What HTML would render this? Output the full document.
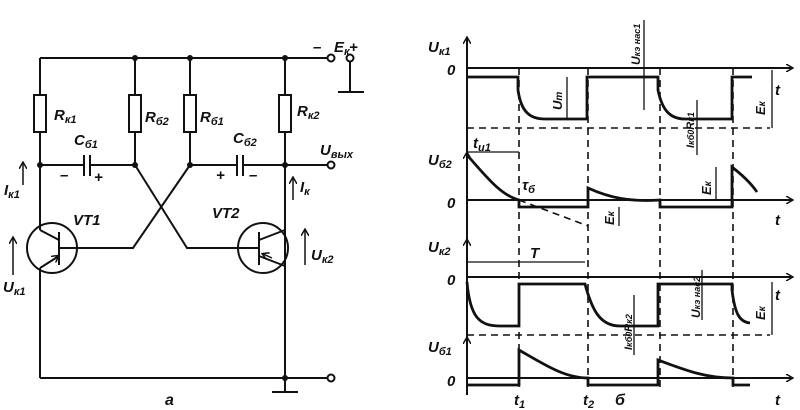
<!DOCTYPE html>
<html><head><meta charset="utf-8"><style>
html,body{margin:0;padding:0;background:#fff;}
svg{display:block;}
text{font-family:"Liberation Sans",sans-serif;font-style:italic;font-weight:bold;fill:#111;}
</style></head><body>
<svg width="800" height="410" viewBox="0 0 800 410" xmlns="http://www.w3.org/2000/svg">
<defs><marker id="ar" markerWidth="8" markerHeight="8" refX="6" refY="4" orient="auto" markerUnits="userSpaceOnUse"><path d="M0,0 L7,4 L0,8" fill="none" stroke="#111" stroke-width="1.5"/></marker></defs>
<g stroke="#111" stroke-width="2" fill="none">
<line x1="40" y1="58" x2="327" y2="58"/>
<circle cx="331" cy="58" r="3.5" fill="#fff"/>
<circle cx="350" cy="58" r="3.5" fill="#fff"/>
<line x1="350" y1="62" x2="350" y2="92"/><line x1="338" y1="92" x2="364" y2="92"/>
<line x1="40" y1="58" x2="40" y2="95"/><rect x="34" y="95" width="12" height="37"/><line x1="40" y1="132" x2="40" y2="230"/>
<line x1="135" y1="58" x2="135" y2="95"/><rect x="129" y="95" width="12" height="37"/><line x1="135" y1="132" x2="135" y2="165"/>
<line x1="190" y1="58" x2="190" y2="95"/><rect x="184" y="95" width="12" height="37"/><line x1="190" y1="132" x2="190" y2="165"/>
<line x1="285" y1="58" x2="285" y2="95"/><rect x="279" y="95" width="12" height="37"/><line x1="285" y1="132" x2="285" y2="378"/>
<line x1="40" y1="165" x2="83" y2="165"/><line x1="84" y1="155" x2="84" y2="176"/><line x1="90" y1="155" x2="90" y2="176"/><line x1="91" y1="165" x2="135" y2="165"/>
<line x1="190" y1="165" x2="236" y2="165"/><line x1="237" y1="155" x2="237" y2="176"/><line x1="243" y1="155" x2="243" y2="176"/><line x1="244" y1="165" x2="327" y2="165"/>
<circle cx="331" cy="165" r="3.5" fill="#fff"/>
<polyline points="135,165 187,248 240,248"/>
<polyline points="190,165 133,248 77,248"/>
<circle cx="52" cy="248" r="25"/>
<line x1="59" y1="232" x2="59" y2="265"/>
<line x1="59" y1="248" x2="77" y2="248"/>
<line x1="59" y1="240" x2="40" y2="230"/>
<line x1="59" y1="256" x2="40" y2="268"/>
<line x1="40" y1="268" x2="40" y2="378"/>
<circle cx="263" cy="248" r="25"/>
<line x1="259" y1="232" x2="259" y2="265"/>
<line x1="240" y1="248" x2="259" y2="248"/>
<line x1="259" y1="240" x2="285" y2="230"/>
<line x1="259" y1="256" x2="285" y2="266"/>
<line x1="40" y1="378" x2="327" y2="378"/>
<circle cx="331" cy="378" r="3.5" fill="#fff"/>
<line x1="285" y1="378" x2="285" y2="392"/><line x1="272" y1="392" x2="298" y2="392"/>
</g>
<g fill="#111"><circle cx="135" cy="58" r="3"/><circle cx="190" cy="58" r="3"/><circle cx="285" cy="58" r="3"/><circle cx="40" cy="165" r="3"/><circle cx="135" cy="165" r="3"/><circle cx="190" cy="165" r="3"/><circle cx="285" cy="165" r="3"/><circle cx="285" cy="378" r="3"/></g>
<g stroke="#111" stroke-width="1.5" marker-end="url(#ar)">
<line x1="23" y1="185" x2="23" y2="163"/><line x1="13" y1="275" x2="13" y2="238"/>
<line x1="293" y1="200" x2="293" y2="178"/><line x1="305" y1="265" x2="305" y2="230"/>
<line x1="50" y1="262" x2="58" y2="256"/><line x1="272" y1="258" x2="263" y2="254"/>
</g>
<g font-size="15">
<text x="54" y="120">R<tspan font-size="11" dy="3">к1</tspan></text>
<text x="145" y="122">R<tspan font-size="11" dy="3">б2</tspan></text>
<text x="200" y="122">R<tspan font-size="11" dy="3">б1</tspan></text>
<text x="297" y="116">R<tspan font-size="11" dy="3">к2</tspan></text>
<text x="74" y="145">C<tspan font-size="11" dy="3">б1</tspan></text>
<text x="233" y="143">C<tspan font-size="11" dy="3">б2</tspan></text>
<text x="320" y="155">U<tspan font-size="11" dy="3">вых</tspan></text>
<text x="334" y="52">E<tspan font-size="11" dy="3">к</tspan></text>
<text x="4" y="195">I<tspan font-size="11" dy="3">к1</tspan></text>
<text x="300" y="192">I<tspan font-size="11" dy="3">к</tspan></text>
<text x="3" y="292">U<tspan font-size="11" dy="3">к1</tspan></text>
<text x="311" y="260">U<tspan font-size="11" dy="3">к2</tspan></text>
<text x="73" y="225">VT1</text><text x="212" y="218">VT2</text>
<text x="165" y="405" font-size="16">a</text>
<text x="60" y="180">–</text><text x="94" y="182">+</text><text x="216" y="180">+</text><text x="249" y="180">–</text>
<text x="313" y="52">–</text><text x="349" y="52">+</text>
</g>
<g stroke="#111" stroke-width="2" fill="none">
<line x1="467" y1="395" x2="467" y2="38" marker-end="url(#ar)"/>
<line x1="467" y1="68" x2="792" y2="68" marker-end="url(#ar)"/>
<line x1="467" y1="200" x2="792" y2="200" marker-end="url(#ar)"/>
<line x1="467" y1="277" x2="792" y2="277" marker-end="url(#ar)"/>
<line x1="467" y1="378" x2="792" y2="378" marker-end="url(#ar)"/>
<line x1="467" y1="200" x2="467" y2="153" marker-end="url(#ar)"/>
<line x1="467" y1="277" x2="467" y2="240" marker-end="url(#ar)"/>
<line x1="467" y1="378" x2="467" y2="338" marker-end="url(#ar)"/>
<g stroke-dasharray="7,5" stroke-width="1.6">
<line x1="467" y1="128" x2="770" y2="128"/><line x1="467" y1="335" x2="770" y2="335"/>
<line x1="519" y1="68" x2="519" y2="390"/><line x1="588" y1="68" x2="588" y2="390"/>
<line x1="660" y1="68" x2="660" y2="390"/><line x1="733" y1="68" x2="733" y2="390"/>
<line x1="519" y1="200" x2="588" y2="226"/>
</g>
</g>
<g stroke="#111" stroke-width="2.8" fill="none">
<path d="M467,77 H518 V90 C521,112 530,119 545,119 H587 V77 H658 V90 C662,110 670,119 685,119 H732 V77 H752"/>
<path d="M467,155 C485,175 500,195 519,200 V207 H588 V188 C610,198 630,202 660,200 V207 H732 V167 C742,175 750,182 757,192"/>
<path d="M467,282 C470,318 480,326 500,326 H519 V284 H585 C592,310 600,326 620,326 H658 V284 H732 V290 C735,315 740,322 750,323"/>
<path d="M467,385 H519 V350 C545,365 565,378 588,378 V385 H658 V360 C685,370 705,378 733,378 V385 H750"/>
</g>
<g stroke="#111" stroke-width="1.3" fill="none">
<line x1="567" y1="77" x2="567" y2="120"/><line x1="467" y1="152" x2="519" y2="152"/>
<line x1="467" y1="262" x2="585" y2="262"/>
<line x1="772" y1="70" x2="772" y2="128"/><line x1="772" y1="282" x2="772" y2="335"/>
<line x1="619" y1="207" x2="619" y2="226"/><line x1="716" y1="167" x2="716" y2="200"/>
<line x1="644" y1="20" x2="644" y2="110"/><line x1="702" y1="270" x2="702" y2="320"/>
<line x1="697" y1="100" x2="697" y2="155"/><line x1="634" y1="295" x2="634" y2="355"/>
</g>
<g font-size="15">
<text x="428" y="52">U<tspan font-size="11" dy="3">к1</tspan></text>
<text x="428" y="165">U<tspan font-size="11" dy="3">б2</tspan></text>
<text x="428" y="252">U<tspan font-size="11" dy="3">к2</tspan></text>
<text x="428" y="352">U<tspan font-size="11" dy="3">б1</tspan></text>
<text x="447" y="75">0</text><text x="447" y="208">0</text><text x="447" y="285">0</text><text x="447" y="386">0</text>
<text x="775" y="95">t</text><text x="775" y="225">t</text><text x="775" y="300">t</text><text x="775" y="405">t</text>
<text x="473" y="148">t<tspan font-size="11" dy="3">и1</tspan></text>
<text x="522" y="190">τ<tspan font-size="11" dy="3">б</tspan></text>
<text x="530" y="258">T</text>
<text x="514" y="405">t<tspan font-size="11" dy="3">1</tspan></text>
<text x="583" y="405">t<tspan font-size="11" dy="3">2</tspan></text>
<text x="615" y="405" font-size="16">б</text>
<text x="0" y="0" transform="translate(562,110) rotate(-90)" font-size="13">U<tspan font-size="10">т</tspan></text>
<text x="0" y="0" transform="translate(765,115) rotate(-90)" font-size="13">E<tspan font-size="10">к</tspan></text>
<text x="0" y="0" transform="translate(765,320) rotate(-90)" font-size="13">E<tspan font-size="10">к</tspan></text>
<text x="0" y="0" transform="translate(614,225) rotate(-90)" font-size="13">E<tspan font-size="10">к</tspan></text>
<text x="0" y="0" transform="translate(711,195) rotate(-90)" font-size="13">E<tspan font-size="10">к</tspan></text>
<text x="0" y="0" transform="translate(640,65) rotate(-90)" font-size="12">U<tspan font-size="9">кэ нас1</tspan></text>
<text x="0" y="0" transform="translate(700,318) rotate(-90)" font-size="12">U<tspan font-size="9">кэ нас2</tspan></text>
<text x="0" y="0" transform="translate(694,148) rotate(-90)" font-size="11">I<tspan font-size="9">кб0</tspan>R<tspan font-size="9">к1</tspan></text>
<text x="0" y="0" transform="translate(632,350) rotate(-90)" font-size="11">I<tspan font-size="9">кб0</tspan>R<tspan font-size="9">к2</tspan></text>
</g>
</svg>
</body></html>
